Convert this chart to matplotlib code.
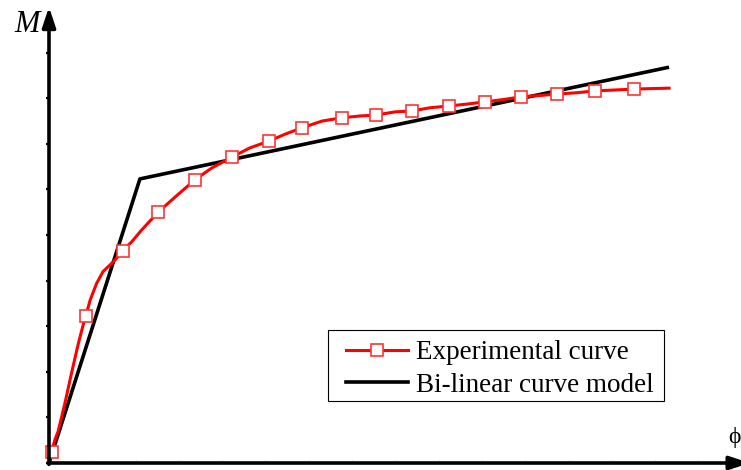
import matplotlib
matplotlib.use("Agg")
import matplotlib.pyplot as plt
from matplotlib.lines import Line2D
from matplotlib.patches import Rectangle

plt.rcParams['font.family'] = ['Liberation Serif', 'DejaVu Serif']

# Experimental curve (phi, M) in arbitrary units
exp_phi = [0.06, 0.14, 0.21, 0.37, 0.52, 0.68, 0.79, 0.85, 0.95, 1.10, 1.25, 1.45, 1.56,
           1.70, 1.91, 2.14, 2.52, 2.91, 3.37, 3.76, 4.23, 4.64, 5.08, 5.45, 5.84, 6.31,
           6.77, 7.18, 7.55, 7.99, 8.38, 8.80, 9.24, 9.65, 10.07, 10.49, 10.90, 11.34,
           11.73, 12.19, 12.61, 13.07, 13.51, 13.88, 14.32]
exp_M = [0.25, 0.52, 0.69, 1.32, 1.97, 2.63, 3.03, 3.23, 3.57, 3.94, 4.20, 4.38, 4.49,
         4.66, 4.85, 5.11, 5.50, 5.83, 6.21, 6.47, 6.71, 6.91, 7.06, 7.21, 7.35, 7.50,
         7.57, 7.61, 7.63, 7.70, 7.72, 7.79, 7.83, 7.87, 7.92, 7.97, 8.03, 8.06, 8.09,
         8.12, 8.16, 8.18, 8.20, 8.21, 8.22]
marker_idx = [0, 7, 13, 16, 18, 20, 22, 24, 26, 28, 30, 32, 34, 36, 38, 40, 42]

# Bi-linear model
bil_phi = [0.0, 2.10, 14.32]
bil_M = [0.0, 6.23, 8.68]

legend_labels = ["Experimental curve", "Bi-linear curve model"]

W, H = 741, 470
fig = plt.figure(figsize=(W / 100, H / 100), dpi=100)
ax = fig.add_axes([49 / W, (H - 463) / H, (W - 49) / W, 463 / H])
xmax = (W - 49) / 43.3
ymax = 463 / 45.6
ax.set_xlim(0, xmax)
ax.set_ylim(0, ymax)
for s in ax.spines.values():
    s.set_visible(False)

ax.plot(bil_phi, bil_M, color='black', lw=2.6, solid_capstyle='butt', zorder=3)
ax.plot(exp_phi, exp_M, color='red', lw=2.2, zorder=4)
ax.plot([exp_phi[i] for i in marker_idx], [exp_M[i] for i in marker_idx],
        ls='none', marker='s', ms=8.5, mfc='white', mec='#ff3333', mew=1.2, zorder=5,
        clip_on=False)

# axes with arrows
arrow = dict(arrowstyle='-|>,head_length=0.6,head_width=0.2', lw=2.6, color='black',
             mutation_scale=20, shrinkA=0, shrinkB=0)
ax.annotate('', xy=(0, (463 - 7) / 45.6), xytext=(0, -0.03), arrowprops=arrow,
            annotation_clip=False, zorder=6)
ax.annotate('', xy=(xmax + 0.2, 0), xytext=(-0.03, 0), arrowprops=arrow,
            annotation_clip=False, zorder=6)

ax.set_yticks(range(1, 10))
ax.set_xticks(range(1, 16))
ax.tick_params(axis='y', length=2.5, width=1.6, direction='out', color='black',
               labelleft=False)
ax.tick_params(axis='x', length=2, width=0.8, direction='in', color='#dddddd',
               labelbottom=False)

fig.text(27 / W, 1 - 24 / H, 'M', fontsize=22, style='italic', ha='center', va='center')
fig.text(741 / W, 1 - 438 / H, 'ϕ', fontsize=17, ha='right', va='center')

# legend frame drawn as a plain rectangle
ax.add_patch(Rectangle((328 / W, 1 - 401 / H), (664 - 328) / W, (401 - 330) / H,
                       transform=fig.transFigure, fill=True, facecolor='white',
                       edgecolor='black', lw=0.8, zorder=7, clip_on=False))

handles = [Line2D([], [], color='red', lw=2.2, marker='s', ms=8.5, mfc='white',
                  mec='#ff3333', mew=1.2),
           Line2D([], [], color='black', lw=2.6)]
leg = ax.legend(handles, legend_labels, loc='upper left',
                bbox_to_anchor=(346 / W, 1 - 340 / H), bbox_transform=fig.transFigure,
                fontsize=19.5, frameon=False, handlelength=2.3, handletextpad=0.3,
                borderpad=0, labelspacing=0.28, borderaxespad=0)
leg.set_zorder(8)

fig.savefig('out.png', dpi=100)
